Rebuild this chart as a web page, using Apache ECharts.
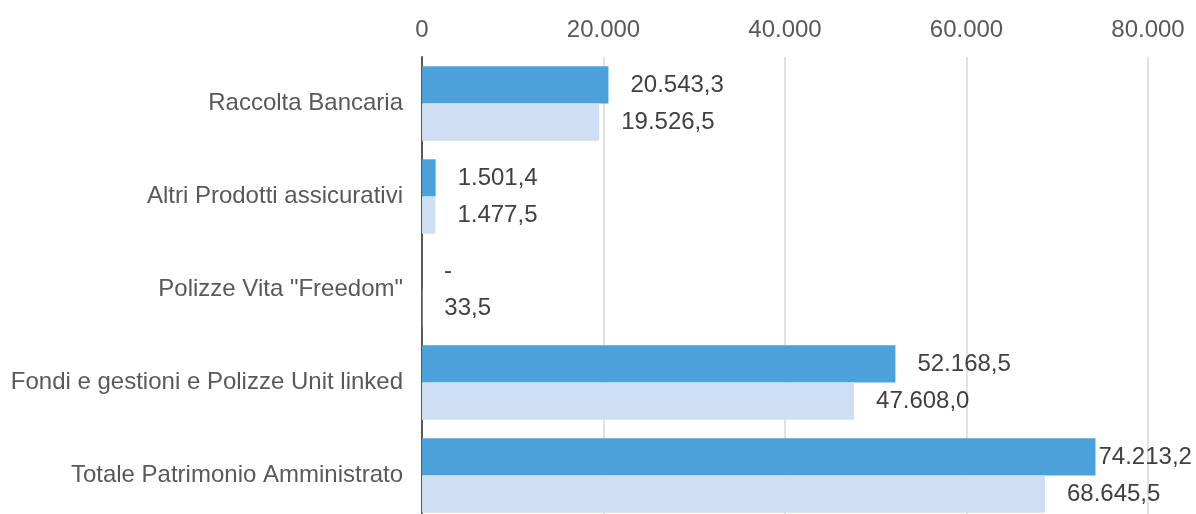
<!DOCTYPE html>
<html>
<head>
<meta charset="utf-8">
<script src="https://cdn.jsdelivr.net/npm/echarts@6/dist/echarts.min.js"></script>
<style>
  html, body { margin: 0; padding: 0; background: #ffffff; overflow: hidden; }
  /* plot area runs slightly past the bottom edge of the page */
  #chart { width: 1196px; height: 522px; }
</style>
</head>
<body>
<div id="chart"></div>
<script>
// Categories, top to bottom
const categories = [
  'Raccolta Bancaria',
  'Altri Prodotti assicurativi',
  'Polizze Vita "Freedom"',
  'Fondi e gestioni e Polizze Unit linked',
  'Totale Patrimonio Amministrato'
];
// Current period (dark bars) and previous period (light bars)
const currentValues = [20543.3, 1501.4, 0, 52168.5, 74213.2];
const previousValues = [19526.5, 1477.5, 33.5, 47608.0, 68645.5];
// Value axis ticks
const axisMin = 0;
const axisMax = 80000;
const axisStep = 20000;

// Italian-style number formatting: dot for thousands, comma for decimals
function fmt(v, decimals) {
  const fixed = Math.abs(v).toFixed(decimals);
  const parts = fixed.split('.');
  const intPart = parts[0].replace(/\B(?=(\d{3})+(?!\d))/g, '.');
  return (v < 0 ? '-' : '') + intPart + (parts[1] ? ',' + parts[1] : '');
}
function labelText(p) {
  return p.value === 0 ? '-' : fmt(p.value, 1);
}

const FONT = '"Liberation Sans", Arial, sans-serif';
const labelStyle = {
  show: true,
  position: 'right',
  distance: 22,
  fontFamily: FONT,
  fontSize: 24,
  color: '#404040',
  formatter: labelText
};

// The widest bar keeps its label tight to the bar end so it stays in view
function buildData(values) {
  const maxV = Math.max(...values);
  return values.map(v => v === maxV && v > 70000
    ? { value: v, label: { distance: 3 } }
    : v);
}

const chart = echarts.init(document.getElementById('chart'), null, { renderer: 'canvas' });
chart.setOption({
  animation: false,
  backgroundColor: '#ffffff',
  grid: {
    left: 422, right: 48, top: 57, bottom: 0,
    containLabel: false,
    outerBoundsMode: 'none'
  },
  xAxis: {
    type: 'value',
    position: 'top',
    min: axisMin,
    max: axisMax,
    interval: axisStep,
    axisLine: { show: false },
    axisTick: { show: false },
    axisLabel: {
      fontFamily: FONT,
      fontSize: 24,
      color: '#595959',
      margin: 15,
      formatter: v => fmt(v, 0)
    },
    splitLine: {
      show: true,
      lineStyle: { color: '#d9d9d9', width: 1.5 }
    }
  },
  yAxis: {
    type: 'category',
    data: categories,
    inverse: true,
    axisLine: { show: true, lineStyle: { color: '#595959', width: 2 } },
    axisTick: { show: false },
    axisLabel: {
      fontFamily: FONT,
      fontSize: 24,
      color: '#595959',
      margin: 19
    },
    splitLine: { show: false }
  },
  series: [
    {
      name: 'current',
      type: 'bar',
      data: buildData(currentValues),
      barGap: '0%',
      barCategoryGap: '20%',
      itemStyle: { color: '#4ba2db' },
      label: labelStyle
    },
    {
      name: 'previous',
      type: 'bar',
      data: buildData(previousValues),
      barGap: '0%',
      barCategoryGap: '20%',
      itemStyle: { color: '#cedff4' },
      label: labelStyle
    }
  ]
});
</script>
</body>
</html>
